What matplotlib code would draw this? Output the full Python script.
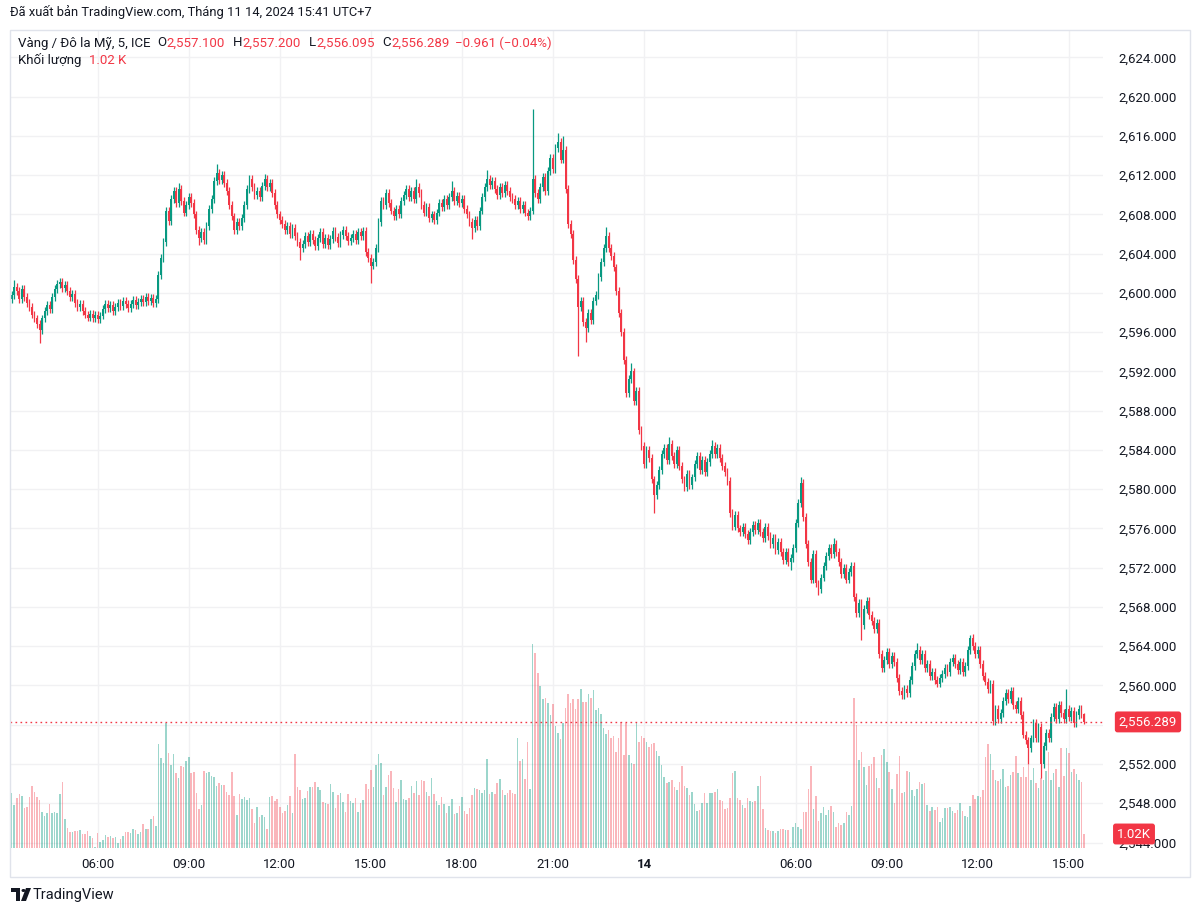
import matplotlib
matplotlib.use('Agg')
import matplotlib.pyplot as plt
import matplotlib.transforms as mtransforms
from matplotlib.patches import Rectangle, Polygon, Circle
import numpy as np

plt.rcParams['font.family'] = ['Roboto', 'DejaVu Sans']

W, H = 1200, 913
UP, DOWN = '#089981', '#F23645'
TXT = '#131722'
GRID = '#F1F1F3'

# 5-minute closes (open = previous close)
first_open = 2599.4
closes = [
    2599.8, 2600.6, 2600.2, 2599.4, 2600.4, 2599.6, 2599.0, 2598.6, 2597.8, 2597.4,
    2596.8, 2596.2, 2597.4, 2598.2, 2598.8, 2598.4, 2599.6,
    2600.4, 2600.9, 2601.1, 2600.5, 2600.8, 2600.2,
    2599.6, 2599.9, 2599.0, 2598.6, 2598.9, 2598.2, 2597.8, 2597.5, 2597.9,
    2597.4, 2597.8, 2597.3, 2597.7,
    2598.4, 2598.9, 2598.5, 2598.8, 2598.2, 2598.6,
    2599.0, 2598.7, 2599.2, 2598.9, 2598.5, 2598.9, 2599.3, 2598.8, 2599.1,
    2599.4, 2599.1, 2599.6, 2599.2, 2599.5, 2599.0, 2599.4,
    2601.8, 2603.6, 2605.2, 2608.4, 2607.3,
    2609.6, 2610.4, 2609.2, 2610.6, 2609.4, 2608.2, 2609.0, 2609.8,
    # 09:00 - 15:00
    2609.2, 2608.0, 2606.4, 2605.6, 2606.2,
    2605.4, 2606.8, 2608.6, 2609.6,
    2611.4, 2612.2, 2611.5, 2612.0, 2611.2,
    2610.4, 2609.0, 2607.8, 2606.4,
    2607.2, 2606.8, 2607.6,
    2609.0, 2610.6, 2611.6,
    2610.8, 2610.0, 2610.4, 2609.8,
    2610.9, 2611.6, 2610.8, 2611.2,
    2610.2, 2609.0, 2608.0, 2607.4,
    2607.0, 2606.4, 2606.8, 2606.0, 2606.6, 2605.8,
    2605.2, 2604.6, 2605.0,
    2605.8, 2605.2, 2606.0, 2605.4, 2604.8, 2605.6, 2606.2, 2605.0, 2605.6, 2604.9,
    2605.5, 2606.3, 2605.7, 2605.1, 2605.9, 2606.4, 2605.8, 2605.3, 2605.6, 2606.0,
    2605.4, 2606.2, 2605.8, 2606.3, 2604.2,
    # 15:00 - 21:00
    2603.6, 2602.8, 2603.2, 2604.6,
    2607.2, 2609.4,
    2609.0, 2610.2, 2609.2,
    2608.4, 2607.8, 2608.6, 2608.0,
    2609.4, 2610.0, 2610.6, 2609.8, 2610.4, 2609.6, 2610.8, 2610.2,
    2609.0, 2608.2, 2608.8, 2607.6, 2608.0, 2607.4, 2608.2,
    2609.2, 2608.8, 2609.6, 2609.0, 2609.8, 2610.4, 2609.4, 2609.9, 2609.2, 2609.6,
    2608.6, 2608.0, 2607.2, 2606.6, 2607.4, 2606.8,
    2608.4, 2609.8, 2610.8, 2611.6,
    2611.0, 2611.4, 2610.6, 2610.0, 2610.8, 2610.2, 2611.0, 2610.4, 2609.8,
    2609.6, 2609.0, 2609.4, 2608.6, 2609.0, 2608.2, 2607.8, 2608.4,
    2611.6, 2610.2, 2609.6,
    # 21:00 - 00:00 sell-off
    2610.8, 2611.8, 2610.4, 2612.4,
    2613.8, 2612.6, 2614.8, 2615.4,
    2613.6, 2614.6, 2610.6, 2607.0, 2606.0, 2603.4, 2601.4,
    2598.6, 2599.2, 2597.0, 2596.4,
    2598.0, 2597.2, 2599.2, 2599.8,
    2601.6, 2603.2, 2604.6, 2605.8,
    2604.6, 2603.8, 2602.6,
    2600.2, 2598.0, 2596.0,
    2593.2, 2589.8, 2591.2, 2592.0, 2589.0, 2590.0,
    2586.0, 2584.4, 2582.6, 2584.0, 2583.2,
    # day 14
    2581.0, 2579.4, 2580.4, 2582.0, 2583.6,
    2584.2, 2583.0, 2584.6, 2583.4, 2582.6, 2584.0,
    2582.4, 2581.0, 2580.2, 2581.6, 2580.4, 2581.2,
    2582.6, 2583.4, 2582.0, 2583.0, 2581.8, 2582.8, 2583.6,
    2584.4, 2583.6, 2584.2, 2583.2,
    2582.4, 2581.8, 2580.8,
    2577.6, 2576.2, 2577.4, 2576.0, 2575.6,
    2576.2, 2575.4, 2574.8, 2575.6, 2576.4, 2575.8, 2576.6, 2575.6, 2575.0, 2576.2,
    2575.2, 2574.4, 2575.0, 2573.8, 2574.6, 2573.6, 2572.8, 2573.6, 2572.6,
    2573.0, 2574.0,
    2576.6, 2578.6, 2580.6,
    2577.2, 2574.4, 2572.6,
    2570.8, 2573.4, 2570.4, 2569.8,
    2571.0, 2572.2,
    2573.2, 2574.0, 2573.4, 2574.4, 2573.6,
    2572.6, 2571.4, 2572.0, 2570.8,
    2571.6, 2572.2,
    2569.0, 2567.4,
    2568.4, 2566.2, 2567.8, 2568.6, 2567.2,
    2566.6, 2565.8, 2566.4,
    2563.2, 2561.8,
    2562.6, 2563.4, 2562.2, 2563.0, 2562.4,
    2560.8, 2559.4,
    2559.0, 2559.6, 2559.2,
    2560.6, 2562.0, 2563.2,
    2563.6, 2562.6, 2563.2,
    2561.8, 2562.2, 2561.0, 2561.4, 2560.6, 2560.2, 2560.8,
    2561.2, 2561.8, 2561.4, 2562.4, 2562.8, 2562.2,
    2561.6, 2562.4, 2561.4, 2562.0,
    2563.6, 2564.8,
    2564.0, 2563.2, 2563.6,
    2562.2, 2561.0,
    2560.4, 2559.6, 2560.2,
    2556.4,
    2557.6, 2556.6, 2557.2,
    2558.4, 2559.2, 2558.6, 2559.4, 2558.0,
    2557.6, 2558.4, 2557.0,
    2555.0, 2554.4,
    2553.6, 2554.6,
    2556.2, 2554.6, 2555.8,
    2552.0,
    2553.8, 2555.2, 2554.6,
    2556.8, 2557.8, 2556.6, 2558.0,
    2557.2, 2556.6, 2557.6, 2556.8,
    2557.4, 2556.2, 2557.0, 2557.6, 2557.1, 2556.289,
]

# visible long wicks (bar number -> price)
wick_high = {1: 2601.3, 19: 2601.5, 66: 2611.2, 81: 2613.1, 100: 2612.1,
             160: 2611.6, 174: 2611.4, 188: 2612.5, 206: 2618.7, 216: 2616.3,
             218: 2616.0, 235: 2606.7, 245: 2592.9, 260: 2585.3, 277: 2585.0,
             312: 2581.2, 325: 2575.0, 358: 2564.3, 379: 2565.1, 417: 2559.6,
             424: 2557.2}
wick_low = {11: 2594.9, 74: 2604.9, 114: 2603.4, 142: 2601.0, 182: 2605.5,
            224: 2593.6, 227: 2595.0, 254: 2577.6, 308: 2571.8, 319: 2569.2,
            336: 2564.6, 352: 2558.6, 402: 2552.0, 407: 2550.6, 424: 2556.095}

# volume, read as bar heights (same units as the 1.02K label scale)
volume = [
    55, 43, 50, 54, 52, 40, 41, 51, 62, 56, 51, 48, 36, 32, 35, 44, 35, 36, 35, 54,
    66, 29, 20, 16, 16, 17, 17, 18, 14, 14, 17, 12, 10, 1, 15, 6, 8, 13, 11, 12,
    10, 11, 5, 9, 12, 16, 16, 15, 19, 18, 14, 16, 24, 19, 19, 29, 32, 22, 104, 90,
    85, 125, 95, 83, 94, 75, 70, 82, 81, 87, 91, 75, 76, 55, 39, 43, 77, 75, 76, 72,
    71, 62, 65, 63, 63, 56, 53, 76, 52, 33, 54, 49, 51, 48, 50, 39, 25, 41, 31, 33,
    31, 19, 51, 52, 47, 49, 41, 35, 37, 43, 52, 35, 94, 61, 58, 49, 50, 57, 61, 61,
    66, 61, 58, 46, 45, 44, 64, 56, 40, 53, 55, 46, 36, 54, 47, 45, 50, 36, 45,
    48, 64, 59, 78, 61, 83, 94, 85, 53, 61, 73, 77, 60, 46, 59, 68, 49, 48, 50, 62,
    55, 67, 53, 68, 67, 56, 52, 70, 54, 47, 43, 51, 44, 35, 42, 49, 34, 35, 42, 51,
    37, 34, 40, 53, 60, 59, 58, 55, 58, 89, 54, 56, 54, 65, 69, 58, 53, 55, 58, 55,
    54, 110, 87, 89, 69, 106, 59, 204, 195, 175, 162, 149, 150, 145, 133, 144, 122, 115, 109, 125,
    140, 154, 145, 149, 139, 149, 159, 146, 146, 154, 150, 158, 138, 140, 134, 120, 114, 118, 110, 112,
    96, 110, 126, 93, 125, 93, 85, 84, 126, 106, 112, 110, 106, 101, 104, 105, 97, 92, 83, 71,
    65, 66, 68, 61, 58, 66, 82, 62, 60, 53, 56, 44, 37, 38, 45, 55, 45, 55, 55, 56,
    59, 48,
    47, 39, 40, 50, 75, 77, 50, 48, 43, 40, 50, 47, 46, 47, 62, 72, 39, 20, 18,
    17, 17, 15, 17, 19, 19, 18, 18, 1, 21, 25, 21, 19, 36, 36, 59, 82, 39, 52, 27,
    35, 41, 33, 38, 42, 36, 21, 25, 23, 25, 36, 33, 42, 150, 123, 88, 96, 81, 63, 82,
    84, 91, 70, 60, 93, 99, 86, 76, 59, 45, 74, 92, 55, 56, 77, 76, 58, 52, 59, 66,
    64, 65, 43, 37, 41, 38, 41, 26, 30, 40, 40, 41, 37, 35, 38, 45, 37, 32, 31, 42,
    53, 49, 52, 51, 58, 91, 104, 94, 78, 68, 67, 69, 79, 61, 62, 73, 76, 92, 75, 71,
    81, 71, 83, 68, 80, 65, 60, 70, 68, 77, 96, 68, 75, 79, 61, 100, 72, 100, 95, 76,
    79, 74, 68, 66, 14,
]

first_bar = -34  # bar number of first candle, 0 = 06:00 on the 13th
time_ticks = [0, 36, 72, 108, 144, 180, 216, 276, 312, 348, 384]
time_labels = ['06:00', '09:00', '12:00', '15:00', '18:00', '21:00', '14',
               '06:00', '09:00', '12:00', '15:00']
price_ticks = list(range(2544, 2625, 4))
hidden_price_tick = 2556  # covered by the last-price tag
last_price_label = '2,556.289'
last_volume_label = '1.02K'
header = 'Đã xuất bản TradingView.com, Tháng 11 14, 2024 15:41 UTC+7'
legend_line1 = [('Vàng / Đô la Mỹ, 5, ICE', TXT, 7), ('O', TXT, 0), ('2,557.100', DOWN, 8),
                ('H', TXT, 0), ('2,557.200', DOWN, 8), ('L', TXT, 0), ('2,556.095', DOWN, 8),
                ('C', TXT, 0), ('2,556.289', DOWN, 6), ('\u22120.961 (\u22120.04%)', DOWN, 0)]
legend_line2 = [('Khối lượng', TXT, 8), ('1.02 K', DOWN, 0)]

closes = np.array(closes)
n = len(closes)
opens = np.concatenate([[first_open], closes[:-1]])
pad = 0.4
highs = np.maximum(opens, closes) + pad
lows = np.minimum(opens, closes) - pad
for i, v in wick_high.items():
    highs[i] = v
for i, v in wick_low.items():
    lows[i] = v
xs = np.arange(first_bar, first_bar + n)
up = closes >= opens
ccol = np.where(up, UP, DOWN)

fig = plt.figure(figsize=(W / 100, H / 100), dpi=100)
fig.patch.set_facecolor('white')


def fx(x):
    return x / W


def fy(y):
    return 1 - y / H


ax = fig.add_axes([fx(10), fy(848), (1103 - 10) / W, (848 - 30) / H])
ax.set_facecolor('white')
for s in ax.spines.values():
    s.set_visible(False)

# volume in the lower part of the pane (axes-fraction heights)
vol_top = 818.0
vtrans = mtransforms.blended_transform_factory(ax.transData, ax.transAxes)
vcol = [(8/255, 153/255, 129/255, 0.40) if u else (242/255, 54/255, 69/255, 0.36) for u in up]
ax.bar(xs, np.array(volume) / vol_top, bottom=0, width=0.62, color=vcol,
       linewidth=0, transform=vtrans, zorder=1)

# candles
ax.vlines(xs, lows, highs, colors=ccol, lw=0.9, zorder=2)
body = np.maximum(np.abs(closes - opens), 0.08)
ax.bar(xs, body, bottom=np.minimum(opens, closes), width=0.72, color=ccol,
       linewidth=0, zorder=3)

ax.axhline(closes[-1], color=DOWN, lw=1, ls=(0, (1.2, 2.4)), zorder=4)

ax.set_xlim((10 - 97.7) / 2.529, (1103 - 97.7) / 2.529)
ax.set_ylim(2543.44, 2626.80)
ax.set_xticks(time_ticks)
ax.set_xticklabels(time_labels)
ax.set_yticks(price_ticks)
ax.set_yticklabels(['' if p == hidden_price_tick else f'{p:,.3f}' for p in price_ticks])
ax.yaxis.tick_right()
ax.tick_params(axis='y', length=0, pad=11, labelsize=9.5, labelcolor=TXT)
ax.tick_params(axis='x', length=0, pad=7.5, labelsize=9.5, labelcolor=TXT)
for t in ax.get_xticklabels():
    if t.get_text() == '14':
        t.set_fontweight('bold')
ax.grid(True, color=GRID, lw=1)
ax.set_axisbelow(True)

# last price / last volume tags
tr_p = mtransforms.blended_transform_factory(fig.transFigure, ax.transData)
ax.text(fx(1148), closes[-1], last_price_label, transform=tr_p, ha='center', va='center',
        color='white', fontsize=9.5, zorder=10, clip_on=False,
        bbox=dict(boxstyle='round,pad=0.3,rounding_size=0.2', fc=DOWN, ec='none'))
tr_v = mtransforms.blended_transform_factory(fig.transFigure, ax.transAxes)
ax.text(fx(1134), volume[-1] / vol_top, last_volume_label, transform=tr_v, ha='center',
        va='center', color='white', fontsize=9.5, zorder=10, clip_on=False,
        bbox=dict(boxstyle='round,pad=0.3,rounding_size=0.2', fc=DOWN, ec='none'))

# frame
fig.add_artist(Rectangle((fx(10), fy(877)), (1190 - 10) / W, (877 - 30) / H,
                         transform=fig.transFigure, fill=False, ec='#E0E3EB', lw=1))

fig.text(fx(10), fy(12), header, fontsize=9.3, color=TXT, va='center')

renderer = fig.canvas.get_renderer()


def chain(parts, x, y):
    for s, c, gap in parts:
        t = fig.text(fx(x), fy(y), s, fontsize=9.5, color=c, va='center')
        bb = t.get_window_extent(renderer=renderer)
        x = bb.x1 + gap


chain(legend_line1, 18, 43)
chain(legend_line2, 18, 60)

# TradingView logo
logo = [Polygon([(11, 888), (20, 888), (20, 901), (16, 901), (16, 892), (11, 892)]),
        Polygon([(26, 888), (31, 888), (26, 901), (21, 901)])]
for p in logo:
    pts = [(fx(a), fy(b)) for a, b in p.get_xy()]
    fig.add_artist(Polygon(pts, closed=True, transform=fig.transFigure, fc=TXT, ec='none'))
fig.add_artist(Circle((fx(23.5), fy(890.5)), 2.0 / W, transform=fig.transFigure, fc=TXT, ec='none'))
fig.text(fx(33), fy(895), 'TradingView', fontsize=10.5, color=TXT, va='center')

fig.savefig('out.png', dpi=100, facecolor='white')
